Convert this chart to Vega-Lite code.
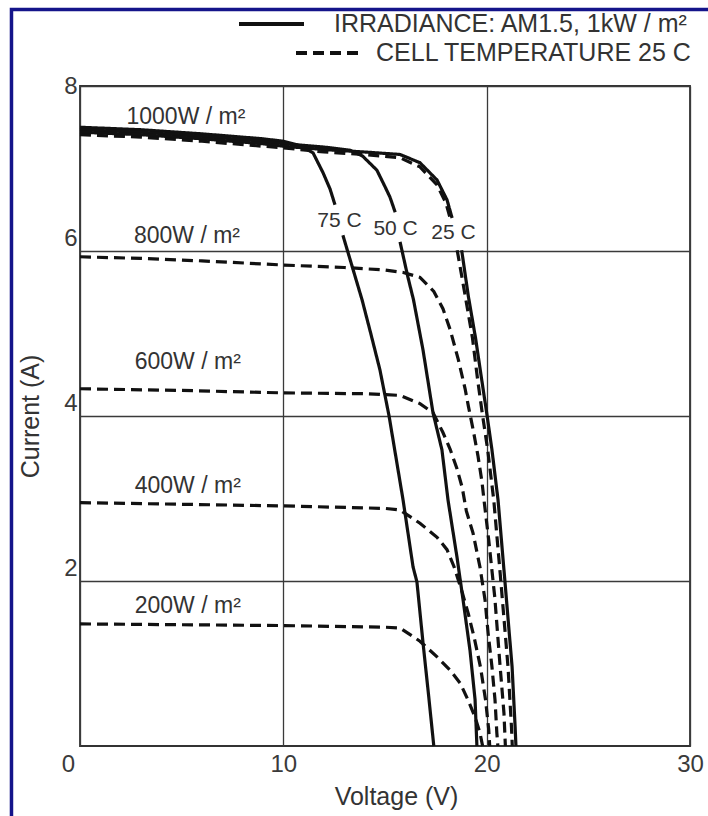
{
  "$schema": "https://vega.github.io/schema/vega-lite/v6.json",
  "width": 610,
  "height": 660,
  "autosize": {"type": "none"},
  "padding": {"left": 80, "top": 86, "right": 18, "bottom": 70},
  "background": "white",
  "config": {
    "view": {"stroke": "#333", "strokeWidth": 1.8},
    "font": "Liberation Sans"
  },
  "datasets": {
    "temp": [
      {"part": "75a", "V": 0, "I": 7.5}, {"part": "75a", "V": 3, "I": 7.47}, {"part": "75a", "V": 6, "I": 7.42}, {"part": "75a", "V": 9, "I": 7.36}, {"part": "75a", "V": 10, "I": 7.33}, {"part": "75a", "V": 10.8, "I": 7.28}, {"part": "75a", "V": 11.46, "I": 7.19}, {"part": "75a", "V": 11.95, "I": 6.95}, {"part": "75a", "V": 12.3, "I": 6.75}, {"part": "75a", "V": 12.54, "I": 6.56},
      {"part": "75b", "V": 12.93, "I": 6.19}, {"part": "75b", "V": 13.4, "I": 5.8}, {"part": "75b", "V": 13.87, "I": 5.41}, {"part": "75b", "V": 14.3, "I": 5.0}, {"part": "75b", "V": 14.75, "I": 4.56}, {"part": "75b", "V": 15.2, "I": 4.0}, {"part": "75b", "V": 15.89, "I": 2.98}, {"part": "75b", "V": 16.38, "I": 2.17}, {"part": "75b", "V": 16.57, "I": 1.99}, {"part": "75b", "V": 16.87, "I": 1.25}, {"part": "75b", "V": 17.15, "I": 0.6}, {"part": "75b", "V": 17.4, "I": 0},
      {"part": "50a", "V": 0, "I": 7.47}, {"part": "50a", "V": 3, "I": 7.44}, {"part": "50a", "V": 6, "I": 7.39}, {"part": "50a", "V": 9, "I": 7.33}, {"part": "50a", "V": 10, "I": 7.3}, {"part": "50a", "V": 12, "I": 7.26}, {"part": "50a", "V": 13.3, "I": 7.22}, {"part": "50a", "V": 13.9, "I": 7.15}, {"part": "50a", "V": 14.6, "I": 6.98}, {"part": "50a", "V": 15.0, "I": 6.78}, {"part": "50a", "V": 15.25, "I": 6.65}, {"part": "50a", "V": 15.5, "I": 6.47},
      {"part": "50b", "V": 15.74, "I": 6.11}, {"part": "50b", "V": 16.13, "I": 5.68}, {"part": "50b", "V": 16.4, "I": 5.41}, {"part": "50b", "V": 16.87, "I": 4.8}, {"part": "50b", "V": 17.36, "I": 4.04}, {"part": "50b", "V": 17.8, "I": 3.59}, {"part": "50b", "V": 18.1, "I": 2.98}, {"part": "50b", "V": 18.54, "I": 2.29}, {"part": "50b", "V": 18.84, "I": 1.77}, {"part": "50b", "V": 19.18, "I": 1.16}, {"part": "50b", "V": 19.43, "I": 0.56}, {"part": "50b", "V": 19.52, "I": 0},
      {"part": "25a", "V": 0, "I": 7.44}, {"part": "25a", "V": 3, "I": 7.41}, {"part": "25a", "V": 6, "I": 7.36}, {"part": "25a", "V": 9, "I": 7.3}, {"part": "25a", "V": 10, "I": 7.27}, {"part": "25a", "V": 12, "I": 7.23}, {"part": "25a", "V": 14, "I": 7.2}, {"part": "25a", "V": 15.74, "I": 7.17}, {"part": "25a", "V": 16.72, "I": 7.07}, {"part": "25a", "V": 17.56, "I": 6.86}, {"part": "25a", "V": 18.05, "I": 6.62}, {"part": "25a", "V": 18.3, "I": 6.4},
      {"part": "25b", "V": 18.77, "I": 6.01}, {"part": "25b", "V": 19.1, "I": 5.45}, {"part": "25b", "V": 19.45, "I": 4.95}, {"part": "25b", "V": 19.75, "I": 4.45}, {"part": "25b", "V": 20.0, "I": 4.04}, {"part": "25b", "V": 20.26, "I": 3.59}, {"part": "25b", "V": 20.56, "I": 2.98}, {"part": "25b", "V": 20.9, "I": 1.99}, {"part": "25b", "V": 21.25, "I": 0.96}, {"part": "25b", "V": 21.4, "I": 0.23}, {"part": "25b", "V": 21.44, "I": 0}
    ],
    "irr": [
      {"part": "1000a", "V": 0, "I": 7.41}, {"part": "1000a", "V": 3, "I": 7.38}, {"part": "1000a", "V": 6, "I": 7.33}, {"part": "1000a", "V": 9, "I": 7.27}, {"part": "1000a", "V": 10, "I": 7.25}, {"part": "1000a", "V": 12, "I": 7.2}, {"part": "1000a", "V": 14, "I": 7.17}, {"part": "1000a", "V": 15.74, "I": 7.13}, {"part": "1000a", "V": 16.72, "I": 7.02}, {"part": "1000a", "V": 17.56, "I": 6.8}, {"part": "1000a", "V": 18.0, "I": 6.58}, {"part": "1000a", "V": 18.2, "I": 6.4},
      {"part": "1000b", "V": 18.55, "I": 6.01}, {"part": "1000b", "V": 18.95, "I": 5.45}, {"part": "1000b", "V": 19.3, "I": 4.95}, {"part": "1000b", "V": 19.55, "I": 4.45}, {"part": "1000b", "V": 19.78, "I": 4.04}, {"part": "1000b", "V": 20.05, "I": 3.59}, {"part": "1000b", "V": 20.35, "I": 2.98}, {"part": "1000b", "V": 20.7, "I": 1.99}, {"part": "1000b", "V": 21.05, "I": 0.96}, {"part": "1000b", "V": 21.22, "I": 0.23}, {"part": "1000b", "V": 21.26, "I": 0},
      {"part": "800", "V": 0, "I": 5.93}, {"part": "800", "V": 3, "I": 5.91}, {"part": "800", "V": 6, "I": 5.88}, {"part": "800", "V": 10, "I": 5.83}, {"part": "800", "V": 13, "I": 5.8}, {"part": "800", "V": 15, "I": 5.77}, {"part": "800", "V": 15.9, "I": 5.74}, {"part": "800", "V": 16.72, "I": 5.68}, {"part": "800", "V": 17.4, "I": 5.51}, {"part": "800", "V": 17.85, "I": 5.3}, {"part": "800", "V": 18.2, "I": 5.05}, {"part": "800", "V": 18.6, "I": 4.69}, {"part": "800", "V": 18.94, "I": 4.33}, {"part": "800", "V": 19.1, "I": 4.12}, {"part": "800", "V": 19.33, "I": 3.84}, {"part": "800", "V": 19.57, "I": 3.52}, {"part": "800", "V": 19.77, "I": 3.2}, {"part": "800", "V": 19.87, "I": 2.98}, {"part": "800", "V": 20.1, "I": 2.5}, {"part": "800", "V": 20.4, "I": 1.8}, {"part": "800", "V": 20.65, "I": 1.0}, {"part": "800", "V": 20.85, "I": 0.4}, {"part": "800", "V": 20.92, "I": 0},
      {"part": "600", "V": 0, "I": 4.33}, {"part": "600", "V": 5, "I": 4.31}, {"part": "600", "V": 10, "I": 4.28}, {"part": "600", "V": 14, "I": 4.27}, {"part": "600", "V": 15.74, "I": 4.25}, {"part": "600", "V": 16.72, "I": 4.15}, {"part": "600", "V": 17.36, "I": 4.04}, {"part": "600", "V": 17.85, "I": 3.8}, {"part": "600", "V": 18.2, "I": 3.6}, {"part": "600", "V": 18.54, "I": 3.36}, {"part": "600", "V": 18.8, "I": 3.13}, {"part": "600", "V": 19.0, "I": 2.85}, {"part": "600", "V": 19.33, "I": 2.58}, {"part": "600", "V": 19.67, "I": 2.17}, {"part": "600", "V": 19.92, "I": 1.77}, {"part": "600", "V": 20.07, "I": 1.37}, {"part": "600", "V": 20.26, "I": 0.96}, {"part": "600", "V": 20.41, "I": 0.56}, {"part": "600", "V": 20.5, "I": 0.16}, {"part": "600", "V": 20.55, "I": 0},
      {"part": "400", "V": 0, "I": 2.95}, {"part": "400", "V": 5, "I": 2.93}, {"part": "400", "V": 10, "I": 2.91}, {"part": "400", "V": 15, "I": 2.88}, {"part": "400", "V": 15.74, "I": 2.86}, {"part": "400", "V": 16.72, "I": 2.7}, {"part": "400", "V": 17.56, "I": 2.53}, {"part": "400", "V": 18.05, "I": 2.38}, {"part": "400", "V": 18.4, "I": 2.17}, {"part": "400", "V": 18.8, "I": 1.86}, {"part": "400", "V": 19.1, "I": 1.6}, {"part": "400", "V": 19.4, "I": 1.3}, {"part": "400", "V": 19.7, "I": 0.95}, {"part": "400", "V": 19.95, "I": 0.55}, {"part": "400", "V": 20.1, "I": 0.2}, {"part": "400", "V": 20.15, "I": 0},
      {"part": "200", "V": 0, "I": 1.48}, {"part": "200", "V": 5, "I": 1.47}, {"part": "200", "V": 10, "I": 1.46}, {"part": "200", "V": 15, "I": 1.44}, {"part": "200", "V": 15.74, "I": 1.43}, {"part": "200", "V": 16.72, "I": 1.27}, {"part": "200", "V": 17.56, "I": 1.08}, {"part": "200", "V": 18.2, "I": 0.92}, {"part": "200", "V": 18.7, "I": 0.76}, {"part": "200", "V": 19.08, "I": 0.56}, {"part": "200", "V": 19.43, "I": 0.35}, {"part": "200", "V": 19.67, "I": 0.16}, {"part": "200", "V": 19.8, "I": 0}
    ],
    "irrLabels": [
      {"V": 5.21, "I": 7.62, "text": "1000W / m²"},
      {"V": 5.26, "I": 6.18, "text": "800W / m²"},
      {"V": 5.3, "I": 4.66, "text": "600W / m²"},
      {"V": 5.3, "I": 3.15, "text": "400W / m²"},
      {"V": 5.3, "I": 1.7, "text": "200W / m²"}
    ],
    "tempLabels": [
      {"V": 12.76, "I": 6.36, "text": "75 C"},
      {"V": 15.52, "I": 6.27, "text": "50 C"},
      {"V": 18.37, "I": 6.22, "text": "25 C"}
    ]
  },
  "layer": [
    {
      "data": {"name": "temp"},
      "mark": {"type": "line", "color": "#111", "strokeWidth": 3.2},
      "encoding": {
        "x": {
          "field": "V", "type": "quantitative",
          "scale": {"domain": [0, 30], "nice": false, "zero": false},
          "axis": {
            "values": [0, 10, 20, 30], "format": "d", "grid": true, "gridColor": "#3a3a3a", "gridWidth": 1.3,
            "domain": false, "ticks": false, "labelPadding": 6,
            "labelFont": "Liberation Sans", "labelFontSize": 24, "labelColor": "#3a3a3a",
            "labelFlush": false,
            "labelOffset": {"condition": {"test": "datum.value === 0", "value": -12}, "value": 0},
            "title": "Voltage (V)", "titleFont": "Liberation Sans", "titleFontSize": 25,
            "titleFontWeight": "normal", "titleColor": "#333", "titlePadding": 8, "titleX": 316
          }
        },
        "y": {
          "field": "I", "type": "quantitative",
          "scale": {"domain": [0, 8], "nice": false, "zero": false},
          "axis": {
            "values": [2, 4, 6, 8], "format": "d", "grid": true, "gridColor": "#3a3a3a", "gridWidth": 1.3,
            "domain": false, "ticks": false, "labelPadding": 3,
            "labelFont": "Liberation Sans", "labelFontSize": 24, "labelColor": "#3a3a3a",
            "labelBaseline": "alphabetic", "labelFlush": false,
            "labelOffset": {"condition": {"test": "datum.value === 8", "value": 7}, "value": -6},
            "title": "Current (A)", "titleFont": "Liberation Sans", "titleFontSize": 25,
            "titleFontWeight": "normal", "titleColor": "#333", "titlePadding": 20
          }
        },
        "detail": {"field": "part"},
        "strokeDash": {
          "datum": "IRRADIANCE: AM1.5, 1kW / m²",
          "scale": {"range": [[1, 0]]},
          "legend": {
            "title": null, "orient": "none", "legendX": 157, "legendY": -77,
            "symbolType": "stroke", "symbolSize": 4225, "symbolStrokeWidth": 4,
            "symbolStrokeColor": "#111", "labelFont": "Liberation Sans",
            "labelFontSize": 25, "labelColor": "#333", "labelOffset": 28, "labelLimit": 0,
            "clipHeight": 30, "padding": 0
          }
        }
      }
    },
    {
      "data": {"name": "irr"},
      "mark": {"type": "line", "color": "#111", "strokeWidth": 3.2},
      "encoding": {
        "x": {"field": "V", "type": "quantitative", "scale": {"domain": [0, 30], "nice": false, "zero": false}},
        "y": {"field": "I", "type": "quantitative", "scale": {"domain": [0, 8], "nice": false, "zero": false}},
        "detail": {"field": "part"},
        "strokeDash": {
          "datum": "CELL TEMPERATURE 25 C",
          "scale": {"range": [[11, 6]]},
          "legend": {
            "title": null, "orient": "none", "legendX": 214, "legendY": -48,
            "symbolType": "stroke", "symbolSize": 4489, "symbolStrokeWidth": 4,
            "symbolStrokeColor": "#111", "labelFont": "Liberation Sans",
            "labelFontSize": 25, "labelColor": "#333", "labelOffset": 11, "labelLimit": 0,
            "clipHeight": 30, "padding": 0
          }
        }
      }
    },
    {
      "data": {"name": "irrLabels"},
      "mark": {"type": "text", "font": "Liberation Sans", "fontSize": 23, "color": "#333", "baseline": "middle", "align": "center"},
      "encoding": {
        "x": {"field": "V", "type": "quantitative", "scale": {"domain": [0, 30], "nice": false, "zero": false}},
        "y": {"field": "I", "type": "quantitative", "scale": {"domain": [0, 8], "nice": false, "zero": false}},
        "text": {"field": "text"}
      }
    },
    {
      "data": {"name": "tempLabels"},
      "mark": {"type": "text", "font": "Liberation Sans", "fontSize": 21, "color": "#333", "baseline": "middle", "align": "center"},
      "encoding": {
        "x": {"field": "V", "type": "quantitative", "scale": {"domain": [0, 30], "nice": false, "zero": false}},
        "y": {"field": "I", "type": "quantitative", "scale": {"domain": [0, 8], "nice": false, "zero": false}},
        "text": {"field": "text"}
      }
    },
    {
      "data": {"values": [{}]},
      "mark": {"type": "rect", "filled": false, "stroke": "#14148a", "strokeWidth": 3.5},
      "encoding": {
        "x": {"datum": -3.37, "type": "quantitative", "scale": {"domain": [0, 30], "nice": false, "zero": false}},
        "x2": {"datum": 32},
        "y": {"datum": 8.927, "type": "quantitative", "scale": {"domain": [0, 8], "nice": false, "zero": false}},
        "y2": {"datum": -2}
      }
    }
  ],
  "resolve": {"scale": {"strokeDash": "independent"}, "legend": {"strokeDash": "independent"}}
}
